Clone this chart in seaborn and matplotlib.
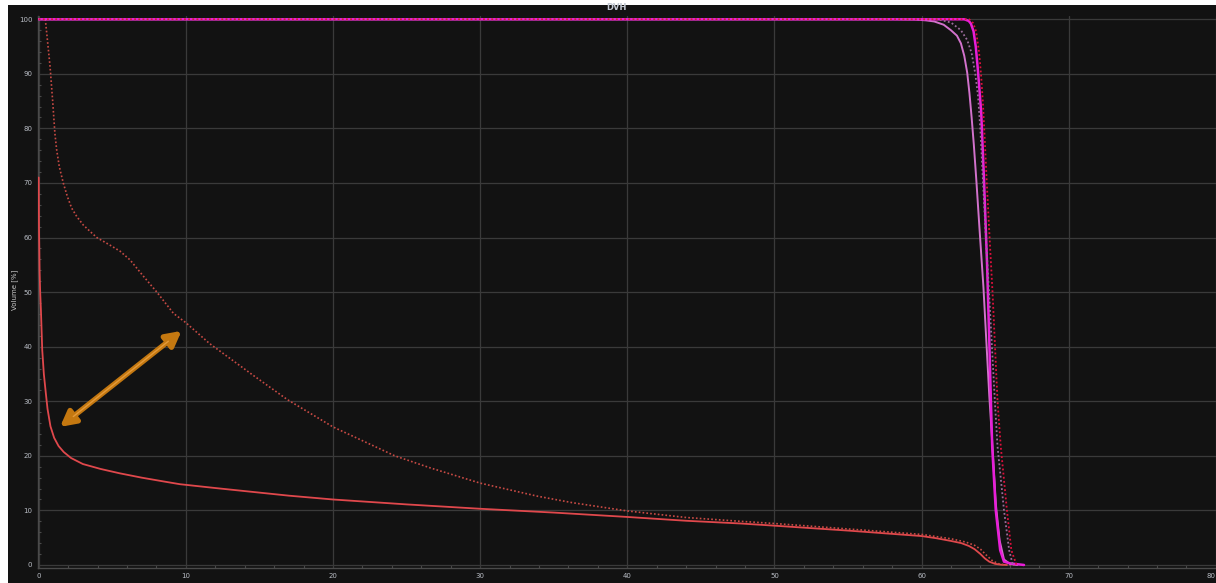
import numpy as np
import pandas as pd
import matplotlib
matplotlib.use("Agg")
import matplotlib.pyplot as plt
from matplotlib.patches import Rectangle, FancyArrowPatch
import seaborn as sns

# ---------------- data ----------------
title = "DVH"
y_label = "Volume [%]"
x_ticks = [0, 10, 20, 30, 40, 50, 60, 70, 80]
y_ticks = [0, 10, 20, 30, 40, 50, 60, 70, 80, 90, 100]

# organ at risk, plan A (solid red)
oar_a_dose = [0, 0.02, 0.06, 0.1, 0.15, 0.24, 0.35, 0.48, 0.6, 0.8, 1.05, 1.35, 1.7,
              2.2, 3.0, 4.2, 5.5, 7.0, 8.5, 9.6, 12, 14.5, 17, 20, 25, 30, 35, 40,
              44, 47.7, 50, 55, 58, 60, 61, 62, 62.7, 63.2, 63.6, 64.0, 64.3,
              64.6, 65.0, 65.4, 65.8]
oar_a_vol = [71, 62, 54, 50, 46.8, 39.4, 35, 31.6, 28.6, 25.4, 23.3, 21.8, 20.7,
             19.6, 18.5, 17.6, 16.8, 16.0, 15.3, 14.8, 14.1, 13.4, 12.7, 12.0, 11.1,
             10.3, 9.6, 8.8, 8.1, 7.6, 7.2, 6.3, 5.7, 5.3, 4.9, 4.4, 4.0, 3.5, 2.9,
             2.0, 1.2, 0.6, 0.2, 0.05, 0]

# organ at risk, plan B (dotted red)
oar_b_dose = [0.45, 0.6, 0.77, 0.95, 1.1, 1.22, 1.4, 1.67, 1.95, 2.24, 2.6, 3.03,
              3.5, 3.95, 4.85, 5.53, 6.21, 7.12, 8.03, 9.16, 10, 11.6, 14.5, 16.9,
              20, 24.2, 26.6, 30, 33.9, 36.3, 40, 44, 47.7, 50, 55, 60, 62, 63.0,
              63.6, 64.0, 64.4, 64.8, 65.2, 65.6, 66.3]
oar_b_vol = [100, 96, 91.4, 85, 79.1, 76.1, 73, 70, 67.5, 65.4, 63.8, 62.3, 61.1,
             60, 58.6, 57.5, 55.9, 52.9, 50, 46.1, 44.4, 40.6, 34.9, 30.3, 25.3, 20,
             17.8, 15.0, 12.6, 11.4, 9.9, 8.7, 8.0, 7.6, 6.6, 5.6, 4.8, 4.2, 3.6,
             2.9, 1.8, 0.8, 0.25, 0.05, 0]

# target, plan A (solid violet)
ptv_a_dose = [0, 58, 59.5, 60.3, 60.86, 61.5, 61.99, 62.4, 62.67, 62.9, 63.1,
              63.25, 63.4, 63.55, 63.72, 63.95, 64.2, 64.42, 64.6, 64.82, 65.05,
              65.3, 65.6, 66.0, 66.5]
ptv_a_vol = [100, 100, 99.95, 99.8, 99.6, 99.0, 98.0, 97.0, 95.6, 93.3, 90.2, 86.5,
             82, 77, 70.5, 61, 51, 40, 31, 21.7, 11, 4.5, 1.0, 0.2, 0]

# target, plan B (solid magenta)
ptv_b_dose = [0, 62.9, 63.2, 63.35, 63.53, 63.68, 63.8, 63.92, 64.05, 64.25,
              64.45, 64.6, 64.7, 64.8, 65.04, 65.34, 65.6, 66.0, 66.96]
ptv_b_vol = [100, 100, 99.7, 99.2, 97.8, 95, 91.5, 87.5, 83, 70, 55, 41, 31, 21.5,
             10, 2.7, 0.6, 0.3, 0]

# target 2, plan A (dotted purple)
ptv2_a_dose = [0, 61.1, 62.0, 62.67, 63.1, 63.4, 63.65, 63.84, 64.0, 64.14, 64.37,
               64.6, 64.8, 64.98, 65.16, 65.6, 65.95, 66.2]
ptv2_a_vol = [100, 100, 99.4, 98.0, 96.2, 93.8, 90, 85.8, 79.5, 72, 60, 49, 39, 30,
              21.7, 10, 2.7, 0]

# target 2, plan B (dotted crimson)
ptv2_b_dose = [0, 63.23, 63.5, 63.7, 63.9, 64.05, 64.17, 64.3, 64.43, 64.62, 64.82,
               65.16, 65.38, 65.8, 66.1, 66.45]
ptv2_b_vol = [100, 100, 99.3, 97.8, 94.1, 89.5, 84.5, 77.5, 70, 60, 50, 30, 21.7,
              10, 2.7, 0]

# annotation arrow end points (dose, volume)
arrow_start = (1.45, 25.3)
arrow_end = (9.71, 42.9)

# ---------------- styling ----------------
W, H = 1216, 583
BG = "#121212"
GRID = "#3a3a3a"
TXT = "#b8bcc4"

sns.set_theme(style="dark")
plt.rcParams["font.family"] = ["DejaVu Sans"]

fig = plt.figure(figsize=(W / 100, H / 100), dpi=100)
fig.patch.set_facecolor("white")
fig.add_artist(Rectangle((8 / W, 0), 1 - 8 / W, 1 - 5 / H, transform=fig.transFigure,
                         facecolor=BG, edgecolor="none", zorder=0))

ax = fig.add_axes([37.96 / W, (H - 567.7) / H, (1215.9 - 37.96) / W, 551.7 / H])
ax.set_facecolor(BG)
ax.set_zorder(1)

dot = (0, (1, 1.3))
series = [
    (oar_a_dose, oar_a_vol, "#e0484c", "-", 1.3),
    (oar_b_dose, oar_b_vol, "#c84a44", dot, 1.2),
    (ptv_a_dose, ptv_a_vol, "#d272cc", "-", 1.4),
    (ptv_b_dose, ptv_b_vol, "#e81ed8", "-", 1.8),
    (ptv2_a_dose, ptv2_a_vol, "#9c6c9c", dot, 1.3),
    (ptv2_b_dose, ptv2_b_vol, "#e0103c", dot, 1.3),
]
for xs, ys, col, ls, lw in series:
    sns.lineplot(x=xs, y=ys, ax=ax, color=col, linestyle=ls, linewidth=lw,
                 sort=False, estimator=None, zorder=3)

ax.set_xlim(-0.05, 80)
ax.set_ylim(-0.5, 100.6)
ax.set_xticks(x_ticks)
ax.set_yticks(y_ticks)
ax.set_xticklabels([str(t) for t in x_ticks])
ax.set_yticklabels([str(t) for t in y_ticks])
ax.get_xticklabels()[-1].set_horizontalalignment("right")
ax.set_xticks(np.arange(0, 81, 2), minor=True)
ax.set_yticks(np.arange(0, 101, 2), minor=True)
ax.grid(True, which="major", color=GRID, linewidth=0.9)
ax.grid(False, which="minor")
ax.tick_params(axis="both", which="major", labelsize=5, labelcolor=TXT,
               length=0, pad=4)
ax.tick_params(axis="both", which="minor", direction="in", length=2,
               color="#4a4a4a", width=0.8)
ax.tick_params(axis="both", which="minor", bottom=True, left=True)
for side in ["top", "right"]:
    ax.spines[side].set_visible(False)
for side in ["left", "bottom"]:
    ax.spines[side].set_visible(True)
    ax.spines[side].set_color("#4a4a4a")
    ax.spines[side].set_linewidth(1.0)
ax.set_xlabel("")
ax.set_ylabel("")

# arrow
arr = FancyArrowPatch(arrow_start, arrow_end,
                      arrowstyle="<|-|>,head_length=0.45,head_width=0.24",
                      mutation_scale=20, lw=3.8, color="#c47810",
                      shrinkA=0, shrinkB=0, zorder=5)
ax.add_patch(arr)
ax.plot([arrow_start[0] + 0.9, arrow_end[0] - 0.9],
        [arrow_start[1] + 1.9, arrow_end[1] - 1.9],
        color="#e49a3a", lw=1.0, zorder=6, solid_capstyle="round")

fig.text(616 / W, 1 - 7 / H, title, ha="center", va="center", fontsize=6,
         fontweight="bold", color="#c4cad4")
fig.text(15 / W, 1 - 290 / H, y_label, ha="center", va="center", fontsize=5,
         rotation=90, color="#c8c8c8")

fig.savefig("out.png", dpi=100, facecolor=fig.get_facecolor())
